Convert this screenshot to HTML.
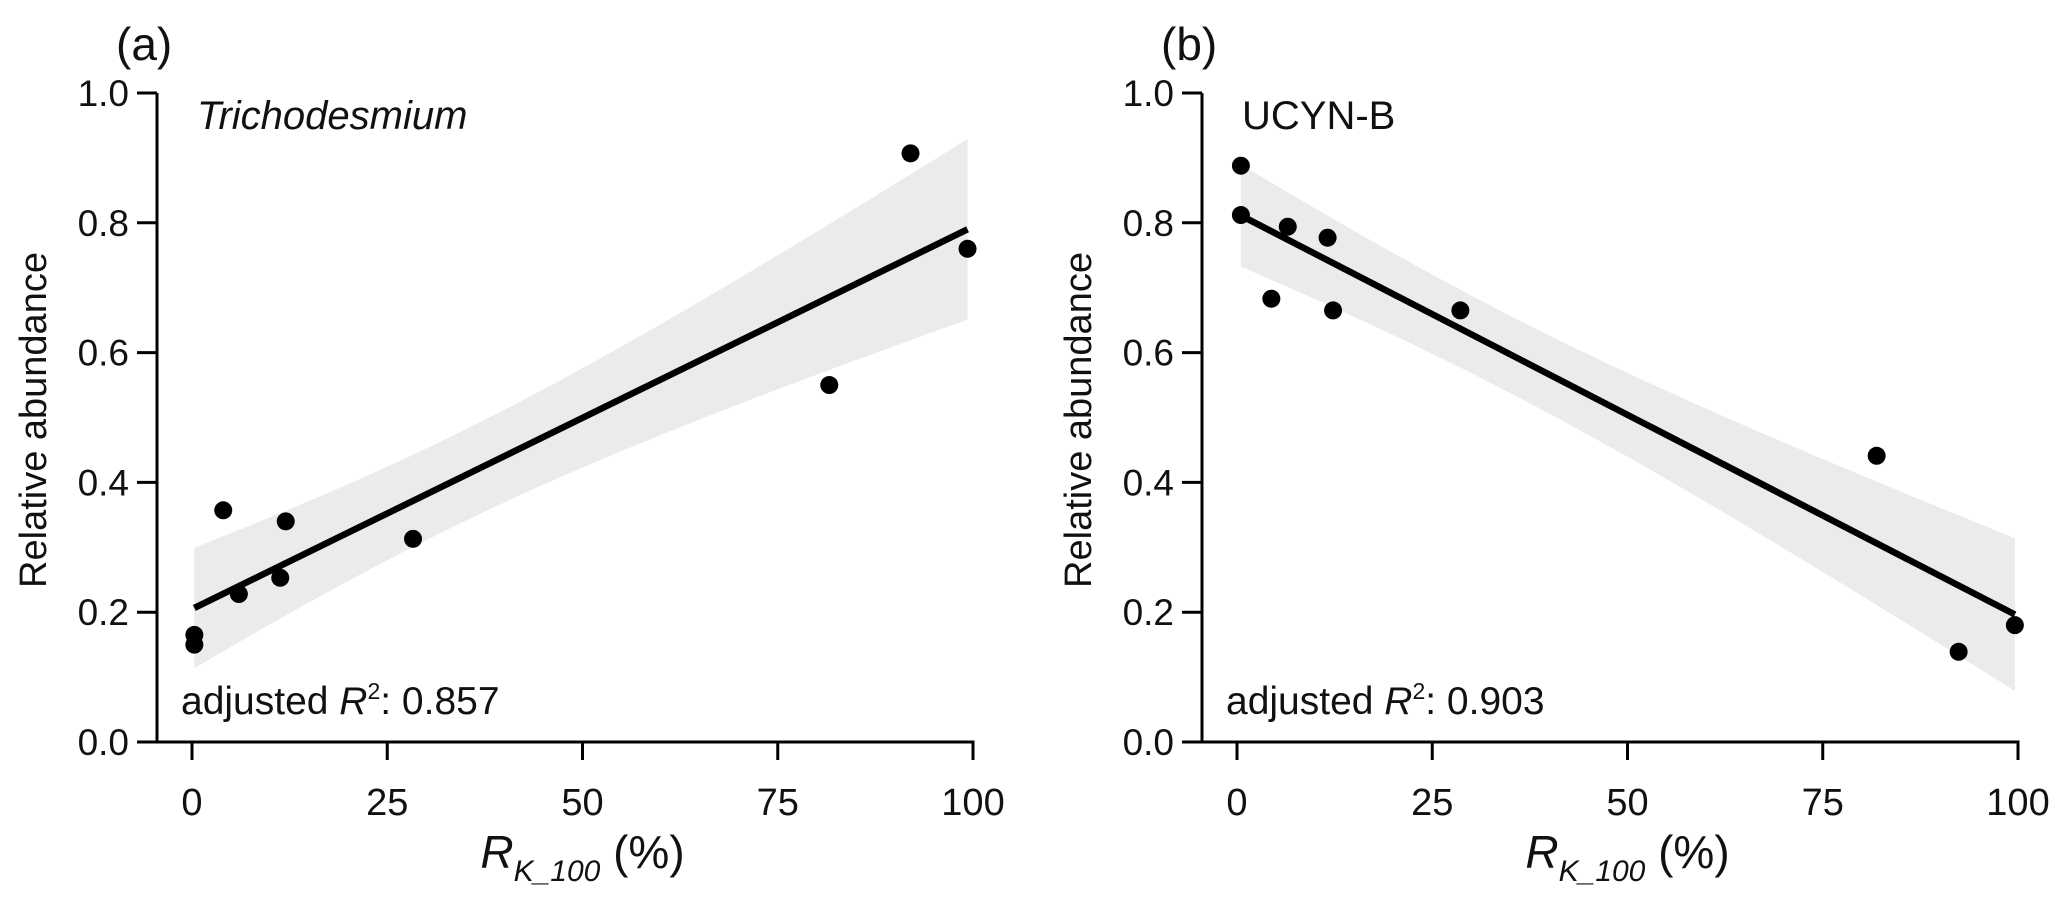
<!DOCTYPE html>
<html><head><meta charset="utf-8"><style>
html,body{margin:0;padding:0;background:#fff;}
svg{display:block;font-family:"Liberation Sans",Arial,sans-serif;}
</style></head><body>
<svg id="chart" width="2067" height="904" viewBox="0 0 2067 904" xmlns="http://www.w3.org/2000/svg"></svg>
<script>
const xValues = [0.3, 0.3, 4, 6, 11.3, 12, 28.3, 81.6, 92, 99.3];
const trichoValues = [0.165, 0.15, 0.357, 0.228, 0.253, 0.34, 0.313, 0.55, 0.907, 0.76];
const xValuesB = [0.5, 0.5, 4.4, 6.5, 11.6, 12.3, 28.6, 81.9, 92.4, 99.6];
const ucynValues = [0.888, 0.812, 0.683, 0.794, 0.777, 0.665, 0.665, 0.441, 0.139, 0.180];
const xTicks = [0, 25, 50, 75, 100];
const yTicks = [0.0, 0.2, 0.4, 0.6, 0.8, 1.0];
const panelLabels = ["(a)", "(b)"];
const r2Labels = ["0.857", "0.903"];

const svg = document.getElementById('chart');
const NS = 'http://www.w3.org/2000/svg';
function mk(tag, attrs, parent){const e=document.createElementNS(NS,tag);for(const k in attrs)e.setAttribute(k,attrs[k]);(parent||svg).appendChild(e);return e;}

function drawPanel(off, xs, ys, idx, titleItalic, titleText){
  const g = mk('g',{});
  
  
  const X = v => off + 192 + v*7.81;
  const Y = v => 742 - v*649;
  const n = xs.length;
  const mx = xs.reduce((a,b)=>a+b,0)/n, my = ys.reduce((a,b)=>a+b,0)/n;
  let sxx=0, sxy=0; for(let i=0;i<n;i++){sxx+=(xs[i]-mx)**2; sxy+=(xs[i]-mx)*(ys[i]-my);}
  const b = sxy/sxx, a = my - b*mx;
  let sse=0; for(let i=0;i<n;i++){sse+=(ys[i]-a-b*xs[i])**2;}
  const s = Math.sqrt(sse/(n-2)), t = 2.306;
  const xmin = Math.min(...xs), xmax = Math.max(...xs);
  const up=[], lo=[];
  for(let k=0;k<=60;k++){
    const x = xmin + (xmax-xmin)*k/60;
    const se = s*Math.sqrt(1/n + (x-mx)**2/sxx);
    const yh = a+b*x;
    up.push(X(x).toFixed(1)+','+Y(yh+t*se).toFixed(1));
    lo.unshift(X(x).toFixed(1)+','+Y(yh-t*se).toFixed(1));
  }
  const band = mk('polygon',{points:up.concat(lo).join(' '),fill:'#ebebeb'},g);
  
  
  const line = mk('line',{x1:X(xmin),y1:Y(a+b*xmin),x2:X(xmax),y2:Y(a+b*xmax),stroke:'#000','stroke-width':6.5},g);
  
  
  for(let i=0;i<n;i++){
    const c = mk('circle',{cx:X(xs[i]),cy:Y(ys[i]),r:9,fill:'#000'},g);
    
    
  }
  const ax = off+157;
  const yAxis = mk('line',{x1:ax,y1:Y(1),x2:ax,y2:742,stroke:'#000','stroke-width':3},g);
  
  
  const xAxis = mk('line',{x1:ax-20,y1:742,x2:X(100)+1.5,y2:742,stroke:'#000','stroke-width':3},g);
  
  
  yTicks.forEach(v=>{
    mk('line',{x1:ax-20,y1:Y(v),x2:ax,y2:Y(v),stroke:'#000','stroke-width':3},g);
    const tl = mk('text',{x:ax-28,y:Y(v)+13,'font-size':37,'text-anchor':'end',fill:'#111'},g);
    tl.textContent = v.toFixed(1);
    
    
  });
  xTicks.forEach(v=>{
    mk('line',{x1:X(v),y1:742,x2:X(v),y2:760,stroke:'#000','stroke-width':3},g);
    const tl = mk('text',{x:X(v),y:815,'font-size':38,'text-anchor':'middle',fill:'#111'},g);
    tl.textContent = v;
    
    
  });
  const pl = mk('text',{x:off+116,y:60,'font-size':46,fill:'#111'},g);
  pl.textContent = panelLabels[idx];
  
  
  const tt = mk('text',{x:off+197,y:129,'font-size':40,fill:'#111','font-style':titleItalic?'italic':'normal'},g);
  tt.textContent = titleText;
  
  
  const r2 = mk('text',{x:off+181,y:714,'font-size':39,fill:'#111'},g);
  r2.innerHTML = 'adjusted <tspan font-style="italic">R</tspan><tspan font-size="23" dy="-15">2</tspan><tspan dy="15">: '+r2Labels[idx]+'</tspan>';
  
  
  const yl = mk('text',{x:0,y:0,'font-size':38,'text-anchor':'middle',fill:'#111',transform:'translate('+(off+46)+',420) rotate(-90)'},g);
  yl.textContent = 'Relative abundance';
  
  
  const xl = mk('text',{x:X(50),y:868,'font-size':46,'text-anchor':'middle',fill:'#111'},g);
  xl.innerHTML = '<tspan font-style="italic">R</tspan><tspan font-style="italic" font-size="30" dy="13">K_100</tspan><tspan dy="-13"> (%)</tspan>';
  
  
}
drawPanel(0, xValues, trichoValues, 0, true, 'Trichodesmium');
drawPanel(1045, xValuesB, ucynValues, 1, false, 'UCYN-B');
</script>
</body></html>
